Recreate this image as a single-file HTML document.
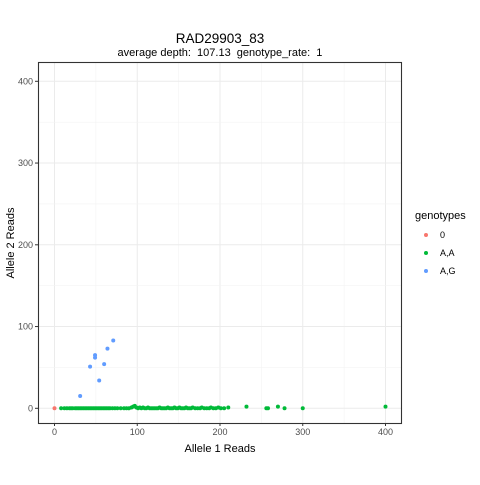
<!DOCTYPE html>
<html><head><meta charset="utf-8"><style>
body{margin:0;background:#fff;font-family:"Liberation Sans",sans-serif}
text{white-space:pre}
</style></head><body>
<svg id="chart" width="480" height="480" xmlns="http://www.w3.org/2000/svg" font-family="Liberation Sans, sans-serif">
<rect width="480" height="480" fill="#fff"/>
<g id="grid"></g>
<g id="pts"></g>
<rect x="38.5" y="62.5" width="363" height="361" fill="none" stroke="#333" stroke-width="1.1"/>
<g id="axes" font-size="9" fill="#4d4d4d"></g>
<text x="220" y="43" font-size="13.5" text-anchor="middle" fill="#000">RAD29903_83</text>
<text x="220" y="56" font-size="11" text-anchor="middle" fill="#000" xml:space="preserve">average depth:  107.13  genotype_rate:  1</text>
<text x="220" y="452" font-size="11" text-anchor="middle" fill="#000">Allele 1 Reads</text>
<text x="14" y="243" font-size="11" text-anchor="middle" fill="#000" transform="rotate(-90 14 243)">Allele 2 Reads</text>
<g id="legend"></g>
</svg>
<script>
const xTicks=[0,100,200,300,400];
const yTicks=[0,100,200,300,400];
const categories=["0","A,A","A,G"];
const colors=["#F8766D","#00BA38","#619CFF"];
const refX=[0];
const refY=[0];
const homX=[8,12,15,18,20,22,25,27,29,31,33,35,37,39,41,43,45,47,49,51,53,55,57,59,61,63,65,67,70,73,76,80,84,87,90,93,95,97,99,101,103,105,107,109,111,113,115,117,119,121,123,125,127,129,131,133,135,137,139,141,143,145,147,149,151,153,155,157,159,161,163,165,167,170,173,176,178,181,184,187,189,192,195,198,201,205,210,232,256,258,270,278,300,400];
const homY=[0,0,0,0,0,0,0,0,0,0,0,0,0,0,0,0,0,0,0,0,0,0,0,0,0,0,0,0,0,0,0,0,0,0,0,1,2,3,1,0,1,0,1,0,0,1,0,0,0,0,0,0,1,0,0,0,0,1,0,0,0,1,0,0,1,0,0,0,1,0,0,0,1,0,0,0,1,0,0,0,1,0,0,1,0,0,1,2,0,0,2,0,0,2];
const hetX=[31,43,49,49,54,60,64,71];
const hetY=[15,51,62,65,34,54,73,83];
const X=v=>54.5+v*0.8275, Y=v=>408.3-v*0.8175;
const NS="http://www.w3.org/2000/svg";
function mk(tag,attrs,parent){const e=document.createElementNS(NS,tag);for(const k in attrs)e.setAttribute(k,attrs[k]);parent.appendChild(e);return e;}
const grid=document.getElementById('grid'),axes=document.getElementById('axes'),pts=document.getElementById('pts'),leg=document.getElementById('legend');
for(let i=0;i<xTicks.length;i++){
 const t=xTicks[i];
 const l=mk('line',{x1:X(t),x2:X(t),y1:62,y2:423,stroke:'#ebebeb','stroke-width':1},grid);
 
 if(i<xTicks.length-1){const m=(t+xTicks[i+1])/2;const g=mk('line',{x1:X(m),x2:X(m),y1:62,y2:423,stroke:'#f3f3f3','stroke-width':0.6},grid);}
 mk('line',{x1:X(t),x2:X(t),y1:423,y2:426,stroke:'#333'},axes);
 const tx=mk('text',{x:X(t),y:435,'text-anchor':'middle'},axes);tx.textContent=t;
 
}
for(let i=0;i<yTicks.length;i++){
 const t=yTicks[i];
 const l=mk('line',{x1:38,x2:402,y1:Y(t),y2:Y(t),stroke:'#ebebeb','stroke-width':1},grid);
 
 if(i<yTicks.length-1){const m=(t+yTicks[i+1])/2;const g=mk('line',{x1:38,x2:402,y1:Y(m),y2:Y(m),stroke:'#f3f3f3','stroke-width':0.6},grid);}
 mk('line',{x1:35,x2:38,y1:Y(t),y2:Y(t),stroke:'#333'},axes);
 const tx=mk('text',{x:33,y:Y(t)+3,'text-anchor':'end'},axes);tx.textContent=t;
 
}
function series(xs,ys,c){for(let i=0;i<xs.length;i++){const p=mk('circle',{cx:X(xs[i]),cy:Y(ys[i]),r:2,fill:c},pts);
 
 }}
series(homX,homY,colors[1]);series(refX,refY,colors[0]);series(hetX,hetY,colors[2]);
const lt=mk('text',{x:415,y:219,'font-size':11,fill:'#000'},leg);lt.textContent='genotypes';

categories.forEach((c,i)=>{const y=235+i*18;
 const d=mk('circle',{cx:426,cy:y,r:2,fill:colors[i]},leg);
 
 const t=mk('text',{x:440,y:y+3,'font-size':9,fill:'#000'},leg);t.textContent=c;
 });
</script>
</body></html>
